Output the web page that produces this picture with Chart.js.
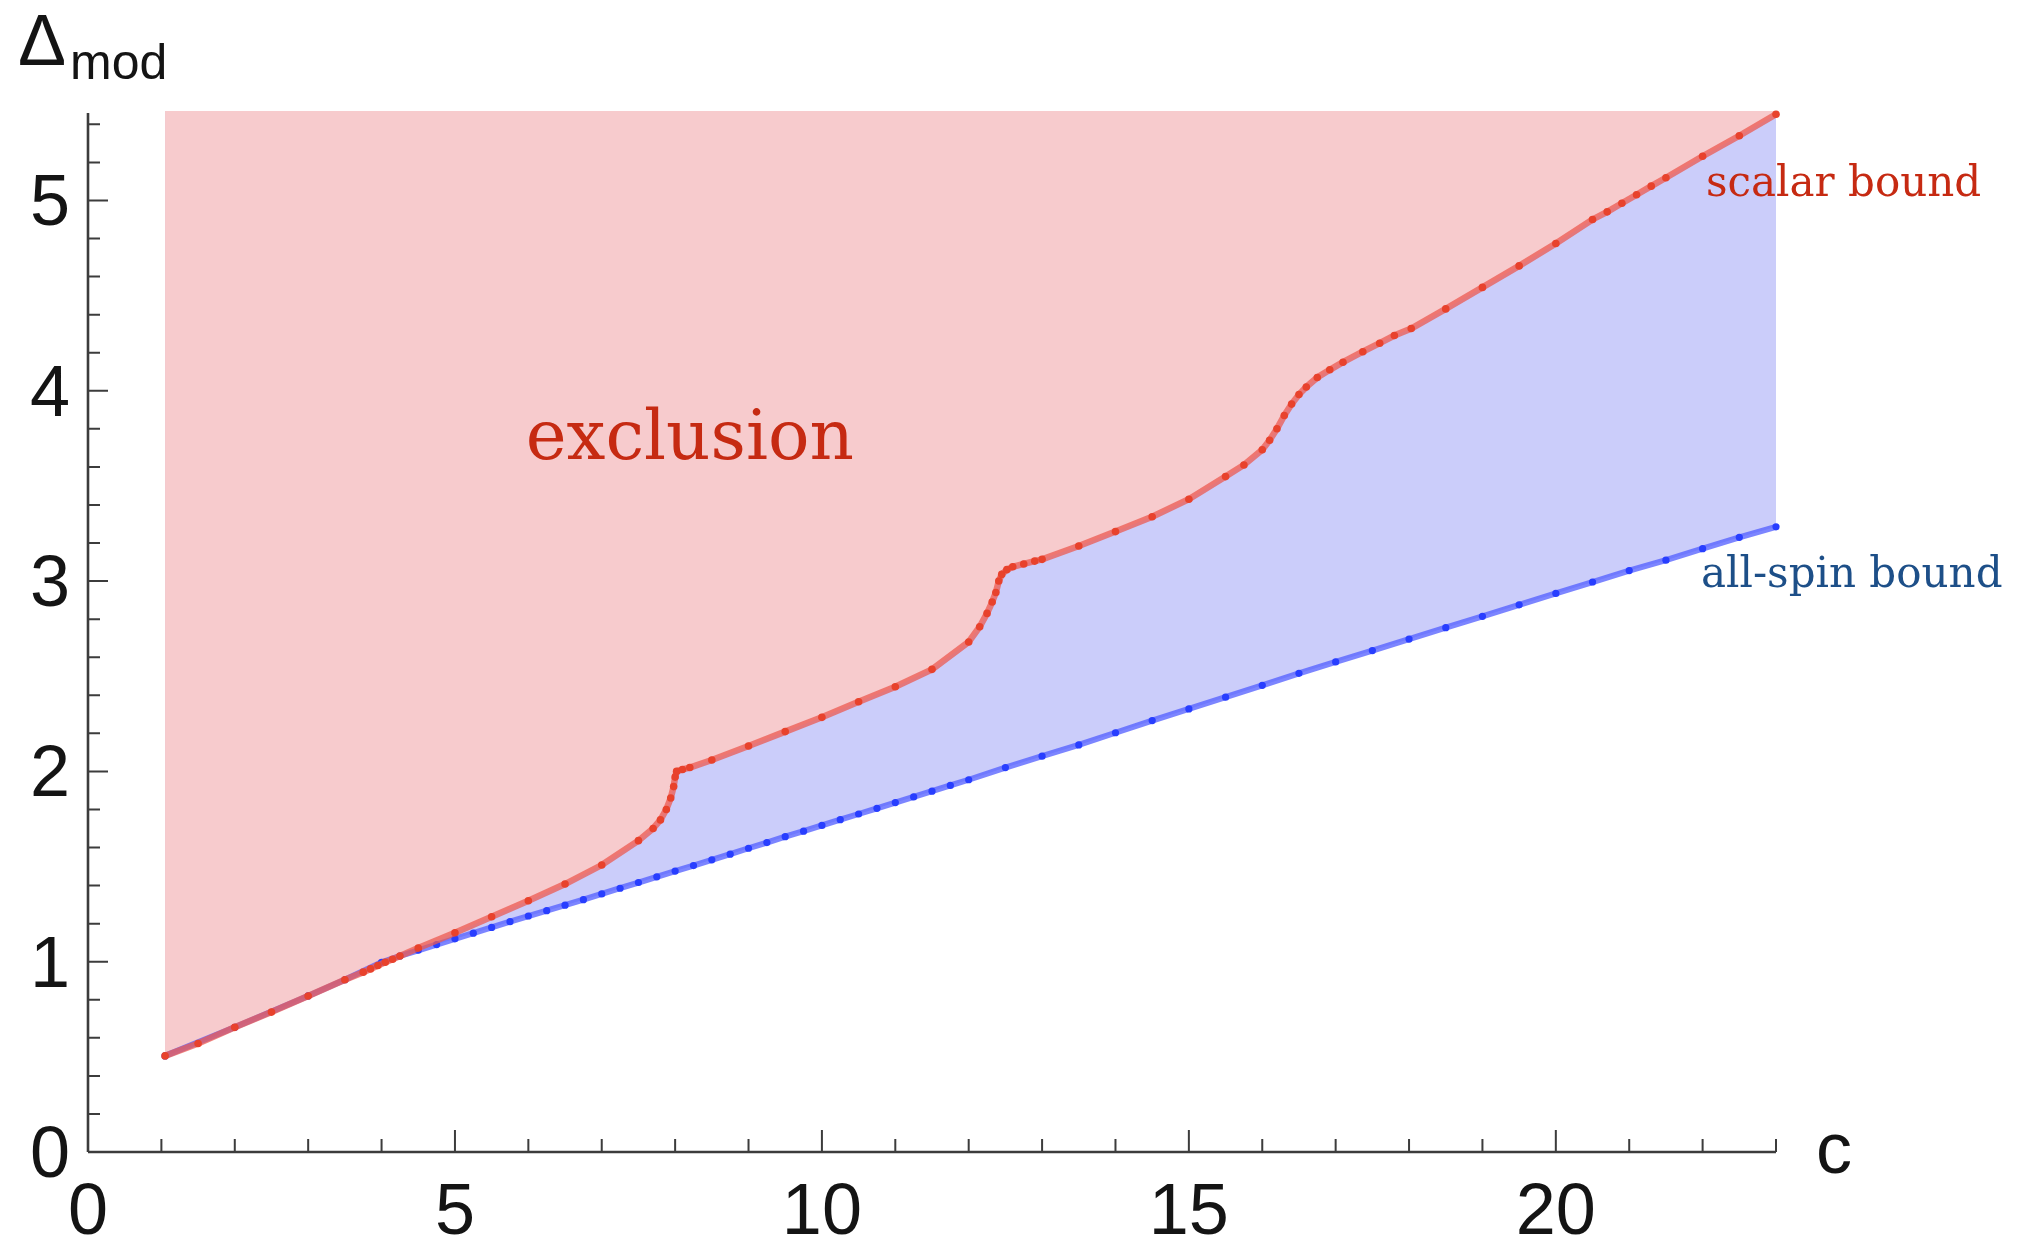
<!DOCTYPE html>
<html>
<head>
<meta charset="utf-8">
<script src="https://cdn.jsdelivr.net/npm/chart.js@4.4.1/dist/chart.umd.min.js"></script>
<style>
  html, body { margin: 0; padding: 0; background: #ffffff; }
  #wrap { width: 2030px; height: 1237px; position: relative; }
</style>
</head>
<body>
<div id="wrap"><canvas id="c" width="2030" height="1237"></canvas></div>
<script>
// ---------------- data ----------------
const scalarC = [1.05, 1.5, 2.0, 2.5, 3.0, 3.5, 3.75, 3.85, 3.95, 4.05, 4.15, 4.25, 4.5, 5.0, 5.5, 6.0, 6.5, 7.0, 7.5, 7.7, 7.8, 7.88, 7.94, 7.98, 8.0, 8.02, 8.1, 8.2, 8.5, 9.0, 9.5, 10.0, 10.5, 11.0, 11.5, 12.0, 12.15, 12.25, 12.32, 12.37, 12.41, 12.45, 12.52, 12.6, 12.75, 12.9, 13.0, 13.5, 14.0, 14.5, 15.0, 15.5, 15.75, 16.0, 16.1, 16.2, 16.3, 16.4, 16.5, 16.6, 16.75, 16.92, 17.1, 17.37, 17.6, 17.8, 18.03, 18.5, 19.0, 19.5, 20.0, 20.5, 20.7, 20.9, 21.1, 21.3, 21.5, 22.0, 22.5, 23.0];
const scalarDelta = [0.505, 0.57, 0.655, 0.735, 0.82, 0.905, 0.945, 0.962, 0.98, 0.997, 1.013, 1.03, 1.072, 1.152, 1.236, 1.32, 1.408, 1.508, 1.636, 1.70, 1.745, 1.80, 1.86, 1.92, 1.97, 2.0, 2.01, 2.02, 2.06, 2.133, 2.209, 2.284, 2.366, 2.445, 2.536, 2.68, 2.76, 2.83, 2.89, 2.94, 3.0, 3.035, 3.06, 3.075, 3.09, 3.105, 3.114, 3.184, 3.26, 3.338, 3.43, 3.549, 3.61, 3.69, 3.74, 3.80, 3.87, 3.93, 3.98, 4.02, 4.07, 4.11, 4.15, 4.205, 4.25, 4.29, 4.327, 4.43, 4.543, 4.656, 4.774, 4.90, 4.94, 4.985, 5.03, 5.075, 5.119, 5.232, 5.34, 5.453];

const spinC = [1.05, 2.0, 3.0, 3.5, 4.0, 4.25, 4.5, 4.75, 5.0, 5.25, 5.5, 5.75, 6.0, 6.25, 6.5, 6.75, 7.0, 7.25, 7.5, 7.75, 8.0, 8.25, 8.5, 8.75, 9.0, 9.25, 9.5, 9.75, 10.0, 10.25, 10.5, 10.75, 11.0, 11.25, 11.5, 11.75, 12.0, 12.5, 13.0, 13.5, 14.0, 14.5, 15.0, 15.5, 16.0, 16.5, 17.0, 17.5, 18.0, 18.5, 19.0, 19.5, 20.0, 20.5, 21.0, 21.5, 22.0, 22.5, 23.0];
const spinDelta = [0.505, 0.655, 0.82, 0.905, 0.997, 1.03, 1.06, 1.09, 1.12, 1.15, 1.18, 1.21, 1.24, 1.268, 1.297, 1.326, 1.356, 1.386, 1.416, 1.446, 1.476, 1.505, 1.535, 1.565, 1.596, 1.626, 1.657, 1.686, 1.716, 1.746, 1.776, 1.806, 1.836, 1.866, 1.896, 1.926, 1.956, 2.02, 2.08, 2.139, 2.203, 2.267, 2.328, 2.39, 2.452, 2.515, 2.575, 2.635, 2.695, 2.755, 2.815, 2.875, 2.935, 2.995, 3.055, 3.11, 3.17, 3.23, 3.285];

const xMajorTicks = [0, 5, 10, 15, 20];
const xMinorTicks = [1, 2, 3, 4, 6, 7, 8, 9, 11, 12, 13, 14, 16, 17, 18, 19, 21, 22, 23];
const yMajorTicks = [0, 1, 2, 3, 4, 5];
const yMinorTicks = [0.2, 0.4, 0.6, 0.8, 1.2, 1.4, 1.6, 1.8, 2.2, 2.4, 2.6, 2.8, 3.2, 3.4, 3.6, 3.8, 4.2, 4.4, 4.6, 4.8, 5.2, 5.4];
const xRange = [0, 23];
const yRange = [0, 5.47];
const yAxisTop = 5.46;

const regionLabel = "exclusion";
const scalarLabel = "scalar bound";
const spinLabel = "all-spin bound";
const xTitle = "c";
const yTitleMain = "\u0394";
const yTitleSub = "mod";

// ---------------- chart ----------------
const pts = (xs, ys) => xs.map((x, i) => ({ x: x, y: ys[i] }));

const axesPlugin = {
  id: 'axesPlugin',
  afterDatasetsDraw(chart) {
    const ctx = chart.ctx;
    const sx = chart.scales.x, sy = chart.scales.y;
    const X = v => sx.getPixelForValue(v);
    const Y = v => sy.getPixelForValue(v);
    ctx.save();
    ctx.strokeStyle = '#3c3c3c';
    ctx.lineWidth = 2.6;
    ctx.lineCap = 'butt';
    // axis lines
    ctx.beginPath();
    ctx.moveTo(X(xRange[0]), Y(0));
    ctx.lineTo(X(xRange[1]), Y(0));
    ctx.moveTo(X(0), Y(0));
    ctx.lineTo(X(0), Y(yAxisTop));
    ctx.stroke();
    // ticks (inward)
    ctx.lineWidth = 2;
    ctx.beginPath();
    xMajorTicks.forEach(v => { if (v > 0) { ctx.moveTo(X(v), Y(0)); ctx.lineTo(X(v), Y(0) - 22); } });
    xMinorTicks.forEach(v => { ctx.moveTo(X(v), Y(0)); ctx.lineTo(X(v), Y(0) - 13); });
    yMajorTicks.forEach(v => { if (v > 0) { ctx.moveTo(X(0), Y(v)); ctx.lineTo(X(0) + 20, Y(v)); } });
    yMinorTicks.forEach(v => { ctx.moveTo(X(0), Y(v)); ctx.lineTo(X(0) + 12, Y(v)); });
    ctx.stroke();
    // tick labels
    ctx.fillStyle = '#141414';
    ctx.font = '72px "Liberation Sans", Arial, sans-serif';
    ctx.textAlign = 'center';
    ctx.textBaseline = 'alphabetic';
    xMajorTicks.forEach(v => ctx.fillText(String(v), X(v), Y(0) + 82));
    ctx.textAlign = 'right';
    yMajorTicks.forEach(v => ctx.fillText(String(v), X(0) - 18, Y(v) + 25));
    // axis titles
    ctx.textAlign = 'left';
    ctx.fillText(xTitle, X(xRange[1]) + 40, Y(0) + 21);
    ctx.font = '72px "Liberation Sans", Arial, sans-serif';
    ctx.fillText(yTitleMain, 18, 65);
    ctx.font = '50px "Liberation Sans", Arial, sans-serif';
    ctx.fillText(yTitleSub, 70, 79);
    // annotations
    ctx.font = '69px "DejaVu Serif", serif';
    ctx.fillStyle = '#c62a12';
    ctx.textAlign = 'center';
    ctx.fillText(regionLabel, X(8.2), Y(3.64));
    ctx.textAlign = 'left';
    ctx.font = '42px "DejaVu Serif", serif';
    ctx.fillText(scalarLabel, 1706, 196);
    ctx.fillStyle = '#1d4f88';
    ctx.fillText(spinLabel, 1701, 587);
    ctx.restore();
  }
};

new Chart(document.getElementById('c'), {
  type: 'scatter',
  data: {
    datasets: [
      { // lavender region above all-spin bound
        data: pts(spinC, spinDelta), showLine: true, fill: 'end',
        backgroundColor: 'rgb(203,205,250)', borderWidth: 0, pointRadius: 0, order: 4
      },
      { // pink exclusion region above scalar bound
        data: pts(scalarC, scalarDelta), showLine: true, fill: 'end',
        backgroundColor: 'rgb(247,203,205)', borderWidth: 0, pointRadius: 0, order: 3
      },
      { // all-spin bound line
        data: pts(spinC, spinDelta), showLine: true, fill: false,
        borderColor: 'rgba(80,92,255,0.75)', borderWidth: 6,
        pointRadius: 3.6, pointBackgroundColor: 'rgb(40,62,255)', pointBorderWidth: 0,
        order: 2, clip: false
      },
      { // scalar bound line
        data: pts(scalarC, scalarDelta), showLine: true, fill: false,
        borderColor: 'rgba(236,90,80,0.75)', borderWidth: 6.5,
        pointRadius: 3.8, pointBackgroundColor: 'rgb(232,66,44)', pointBorderWidth: 0,
        order: 1, clip: false
      }
    ]
  },
  options: {
    responsive: false,
    animation: false,
    devicePixelRatio: 1,
    layout: { padding: { left: 88, right: 254, top: 111, bottom: 85 } },
    scales: {
      x: { type: 'linear', min: xRange[0], max: xRange[1], display: false },
      y: { type: 'linear', min: yRange[0], max: yRange[1], display: false }
    },
    plugins: { legend: { display: false }, tooltip: { enabled: false } },
    elements: { line: { tension: 0 } }
  },
  plugins: [axesPlugin]
});
</script>
</body>
</html>
